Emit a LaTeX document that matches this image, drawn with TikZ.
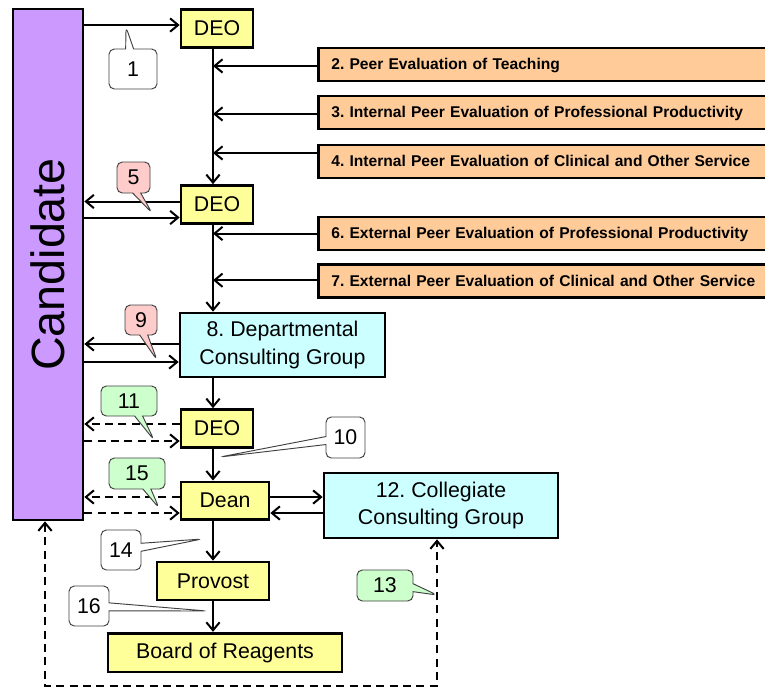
\documentclass[tikz,border=0pt]{standalone}
\usepackage{fontspec}
\setmainfont{Liberation Sans}
\usepackage{tikz}
\usetikzlibrary{positioning,calc,arrows.meta,shapes.callouts}
\frenchspacing

\definecolor{candfill}{HTML}{CC99FF}
\definecolor{deofill}{HTML}{FFFF99}
\definecolor{evalfill}{HTML}{FFCC99}
\definecolor{groupfill}{HTML}{CCFFFF}
\definecolor{pinkfill}{HTML}{FFCCCC}
\definecolor{greenfill}{HTML}{CCFFCC}

\begin{document}
\begin{tikzpicture}[x=0.75pt, y=-0.75pt,
  >={Straight Barb[length=6pt,width=10pt]},
  box/.style={draw, rectangle, line width=2pt, fill=deofill, inner sep=0pt, align=center, font=\fontsize{16}{20.5}\selectfont},
  evalbox/.style={draw, rectangle, line width=2pt, fill=evalfill, anchor=west, minimum height=24.75pt, text width=333pt, inner xsep=9.75pt, text depth=0.5pt, align=left, font=\bfseries\fontsize{11.7}{14}\selectfont},
  note/.style={draw=black!75, line width=0.7pt, rectangle callout, rounded corners=4pt, callout pointer width=6pt, inner sep=0pt, font=\fontsize{16}{18}\selectfont},
  link/.style={line width=1.5pt},
  dlink/.style={line width=1.5pt, dash pattern=on 6pt off 4pt}]
  \useasboundingbox (0,0) rectangle (765,690);

  % Nodes
  \node [box, fill=candfill, minimum width=52.5pt, minimum height=383.25pt] (cand) at (48,264.5) {\rotatebox{90}{\fontsize{35}{40}\selectfont Candidate}};
  \node [box, minimum width=54pt, minimum height=28.5pt] (deo1) at (217,28.5) {DEO};
  \node [box, minimum width=54pt, minimum height=28.5pt] (deo2) at (217,204.5) {DEO};
  \node [box, fill=groupfill, minimum width=153.75pt, minimum height=48pt] (dcg) at (282.5,345) {8. Departmental\\Consulting Group};
  \node [box, minimum width=54pt, minimum height=28.5pt] (deo3) at (217,428.5) {DEO};
  \node [box, minimum width=66pt, minimum height=28pt] (dean) at (225,500.5) {Dean};
  \node [box, fill=groupfill, minimum width=175.5pt, minimum height=48.75pt] (ccg) at (441,505.5) {12. Collegiate\\Consulting Group};
  \node [box, minimum width=84pt, minimum height=28.5pt] (prov) at (213,581) {Provost};
  \node [box, minimum width=175.5pt, minimum height=29pt] (board) at (225,652.5) {Board of Reagents};

  % Evaluations
  \node [evalbox] (eval2) at (317,64.5) {2. Peer Evaluation of Teaching};
  \node [evalbox] (eval3) at (317,112.5) {3. Internal Peer Evaluation of Professional Productivity};
  \node [evalbox] (eval4) at (317,161.5) {4. Internal Peer Evaluation of Clinical and Other Service};
  \node [evalbox] (eval6) at (317,233.5) {6. External Peer Evaluation of Professional Productivity};
  \node [evalbox] (eval7) at (317,281) {7. External Peer Evaluation of Clinical and Other Service};

  % Arrows
  \coordinate (spine) at (213,0);
  \foreach \a/\b in {deo1/deo2, deo2/dcg, dcg/deo3, deo3/dean, dean/prov, prov/board}
    \draw [link,->] (\a.south -| spine) -- (\b.north -| spine);
  \foreach \e/\sh in {eval2/-1.1pt, eval3/-1.1pt, eval4/6.4pt, eval6/0pt, eval7/0.6pt} {
    \path ([yshift=\sh]\e.west) coordinate (ein);
    \draw [link,->] (ein) -- (ein -| spine);
  }
  \path ([yshift=2.6pt]deo1.west) coordinate (din);
  \draw [link,->] (din -| cand.east) -- (din);
  \foreach \nm/\st/\up/\dn in {deo2/link/3/13, dcg/link/1/17, deo3/dlink/4.5/12.5, dean/dlink/3.5/12.5} {
    \path ([yshift=\up*0.75pt]\nm.west) coordinate (dout) ([yshift=-\dn*0.75pt]\nm.west) coordinate (din);
    \draw [\st,->] (dout) -- (dout -| cand.east);
    \draw [\st,->] (din -| cand.east) -- (din);
  }
  \path ([yshift=2.6pt]dean.east) coordinate (gout) ([yshift=-9.4pt]dean.east) coordinate (gin);
  \draw [link,->] (gout) -- (gout -| ccg.west);
  \draw [link,->] (gin -| ccg.west) -- (gin);
  \coordinate (loopl) at (45,686);
  \coordinate (loopr) at (437,686);
  \draw [dlink,<->] (cand.south -| loopl) -- (loopl) -- (loopr) -- (ccg.south -| loopr);

  % Callouts
  \node [note, fill=white, minimum width=36pt, minimum height=30pt, callout absolute pointer={(126,27)}] (c1) at (133,69) {1};
  \node [note, fill=pinkfill, minimum width=24.75pt, minimum height=23.25pt, callout absolute pointer={(152,213)}] (c5) at (133.5,177.5) {5};
  \node [note, fill=pinkfill, minimum width=24pt, minimum height=22.5pt, callout absolute pointer={(157,360)}] (c9) at (141,320) {9};
  \node [note, fill=greenfill, minimum width=42pt, minimum height=22.5pt, callout absolute pointer={(154,440)}] (c11) at (129,401) {11};
  \node [note, fill=white, minimum width=29.25pt, minimum height=30.75pt, callout absolute pointer={(220,457)}] (c10) at (345.5,437.5) {10};
  \node [note, fill=greenfill, minimum width=42pt, minimum height=23.25pt, callout absolute pointer={(159,508)}] (c15) at (137,473.5) {15};
  \node [note, fill=white, minimum width=30pt, minimum height=30pt, callout absolute pointer={(202,539)}] (c14) at (121,550) {14};
  \node [note, fill=white, minimum width=30pt, minimum height=30pt, callout absolute pointer={(207,611)}] (c16) at (89,606) {16};
  \node [note, fill=greenfill, minimum width=42pt, minimum height=23.25pt, callout absolute pointer={(437,595)}] (c13) at (385,585.5) {13};
\end{tikzpicture}
\end{document}
